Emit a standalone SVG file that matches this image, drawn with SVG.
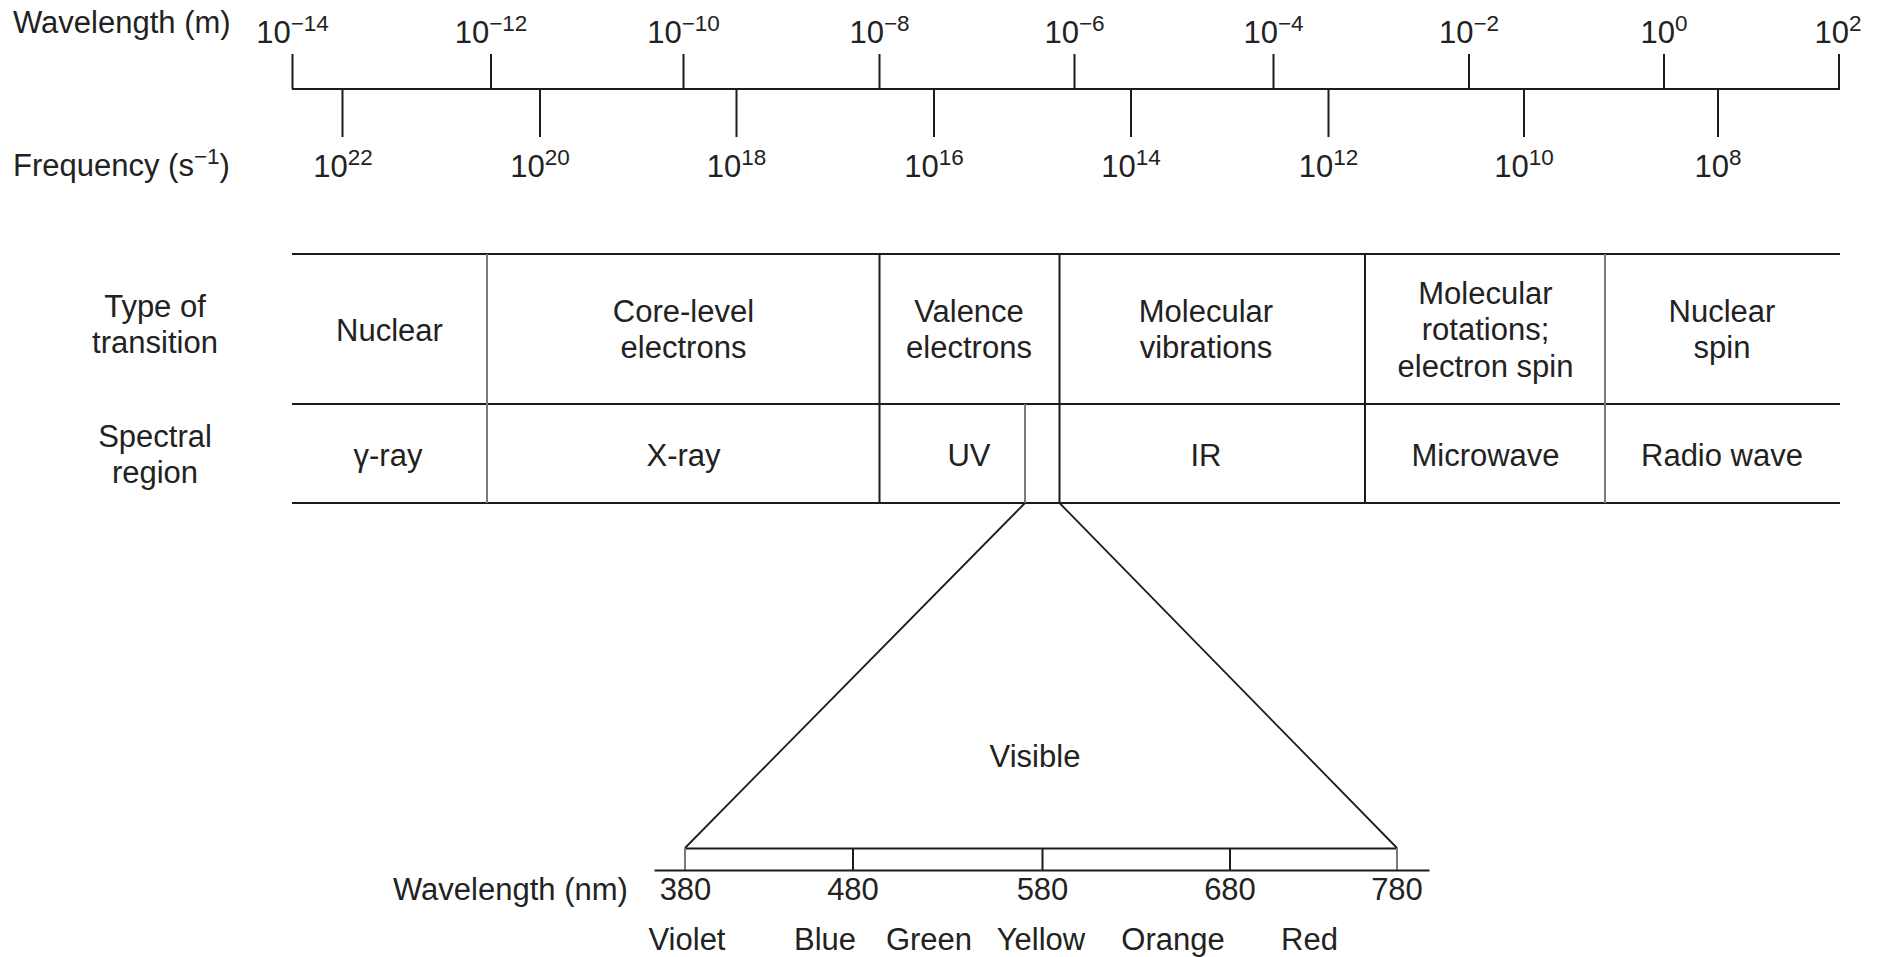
<svg xmlns="http://www.w3.org/2000/svg" width="1887" height="957" viewBox="0 0 1887 957">
  <style>
    text { font-family: "Liberation Sans", Arial, Helvetica, sans-serif; font-size: 31px; fill: #222; }
    .m { text-anchor: middle; }
    .sup { font-size: 22.5px; }
    .ln { stroke: #1c1c1c; stroke-width: 2; fill: none; }
    .gr { stroke: #7a7a7a; stroke-width: 2; fill: none; }
    .thin { stroke: #1c1c1c; stroke-width: 1.8; fill: none; }
  </style>
  <rect width="1887" height="957" fill="#ffffff"/>

  <!-- Wavelength / frequency scale -->
  <g id="scale">
    <text x="13" y="33">Wavelength (m)</text>
    <text x="13" y="176">Frequency (s<tspan class="sup" dy="-12">−1</tspan><tspan dy="12">)</tspan></text>

    <line class="ln" x1="292" y1="89" x2="1840" y2="89"/>
    <!-- wavelength ticks (upward) -->
    <path class="ln" d="M292.5 54V89 M491 54V89 M683.5 54V89 M879.5 54V89 M1074.5 54V89 M1273.5 54V89 M1469 54V89 M1664 54V89 M1839 54V89"/>
    <!-- frequency ticks (downward) -->
    <path class="ln" d="M342.5 89V137 M540 89V137 M736.5 89V137 M934 89V137 M1131 89V137 M1328.5 89V137 M1524 89V137 M1718 89V137"/>

    <text class="m" x="292.5" y="43">10<tspan class="sup" dy="-12">−14</tspan></text>
    <text class="m" x="491" y="43">10<tspan class="sup" dy="-12">−12</tspan></text>
    <text class="m" x="683.5" y="43">10<tspan class="sup" dy="-12">−10</tspan></text>
    <text class="m" x="879.5" y="43">10<tspan class="sup" dy="-12">−8</tspan></text>
    <text class="m" x="1074.5" y="43">10<tspan class="sup" dy="-12">−6</tspan></text>
    <text class="m" x="1273.5" y="43">10<tspan class="sup" dy="-12">−4</tspan></text>
    <text class="m" x="1469" y="43">10<tspan class="sup" dy="-12">−2</tspan></text>
    <text class="m" x="1664" y="43">10<tspan class="sup" dy="-12">0</tspan></text>
    <text class="m" x="1838" y="43">10<tspan class="sup" dy="-12">2</tspan></text>

    <text class="m" x="343" y="177">10<tspan class="sup" dy="-12">22</tspan></text>
    <text class="m" x="540" y="177">10<tspan class="sup" dy="-12">20</tspan></text>
    <text class="m" x="736.5" y="177">10<tspan class="sup" dy="-12">18</tspan></text>
    <text class="m" x="934" y="177">10<tspan class="sup" dy="-12">16</tspan></text>
    <text class="m" x="1131" y="177">10<tspan class="sup" dy="-12">14</tspan></text>
    <text class="m" x="1328.5" y="177">10<tspan class="sup" dy="-12">12</tspan></text>
    <text class="m" x="1524" y="177">10<tspan class="sup" dy="-12">10</tspan></text>
    <text class="m" x="1718" y="177">10<tspan class="sup" dy="-12">8</tspan></text>
  </g>

  <!-- Row headings -->
  <g id="row-headings">
    <text class="m" x="155" y="317">Type of</text>
    <text class="m" x="155" y="353">transition</text>
    <text class="m" x="155" y="447">Spectral</text>
    <text class="m" x="155" y="483">region</text>
  </g>

  <!-- Table grid -->
  <g id="table-grid">
    <path class="ln" d="M292 254H1840 M292 404H1840 M292 503H1840"/>
    <path class="gr" d="M487 254V503 M1605 254V503 M1025 404V503"/>
    <path class="ln" d="M879.5 254V503 M1059.5 254V503 M1365 254V503"/>
  </g>

  <g id="nuclear">
    <text class="m" x="389.5" y="341">Nuclear</text>
    <text class="m" x="388" y="466">γ-ray</text>
  </g>
  <g id="core-level">
    <text class="m" x="683.5" y="322">Core-level</text>
    <text class="m" x="683.5" y="358">electrons</text>
    <text class="m" x="683.5" y="466">X-ray</text>
  </g>
  <g id="valence">
    <text class="m" x="969" y="322">Valence</text>
    <text class="m" x="969" y="358">electrons</text>
    <text class="m" x="969" y="466">UV</text>
  </g>
  <g id="vibrations">
    <text class="m" x="1206" y="322">Molecular</text>
    <text class="m" x="1206" y="358">vibrations</text>
    <text class="m" x="1206" y="466">IR</text>
  </g>
  <g id="rotations">
    <text class="m" x="1485.5" y="303.5">Molecular</text>
    <text class="m" x="1485.5" y="340">rotations;</text>
    <text class="m" x="1485.5" y="376.5">electron spin</text>
    <text class="m" x="1485.5" y="466">Microwave</text>
  </g>
  <g id="nuclear-spin">
    <text class="m" x="1722" y="322">Nuclear</text>
    <text class="m" x="1722" y="358">spin</text>
    <text class="m" x="1722" y="466">Radio wave</text>
  </g>

  <!-- Lines fanning out from the visible band -->
  <g id="connectors">
    <line class="thin" x1="1025" y1="503" x2="685" y2="848"/>
    <line class="thin" x1="1059.5" y1="503" x2="1397" y2="848"/>
  </g>

  <!-- Expanded visible range -->
  <g id="visible">
    <text class="m" x="1035" y="767">Visible</text>
    <line class="ln" x1="685" y1="848.5" x2="1397" y2="848.5"/>
    <path class="gr" d="M685 848V870 M1397 848V870"/>
    <path class="ln" d="M853 848V870 M1042.5 848V870 M1230 848V870"/>
    <line class="ln" x1="654.5" y1="870.5" x2="1429.5" y2="870.5"/>

    <text x="393" y="900">Wavelength (nm)</text>
    <text class="m" x="685.5" y="900">380</text>
    <text class="m" x="853" y="900">480</text>
    <text class="m" x="1042.5" y="900">580</text>
    <text class="m" x="1230" y="900">680</text>
    <text class="m" x="1397" y="900">780</text>

    <text class="m" x="687" y="950">Violet</text>
    <text class="m" x="825" y="950">Blue</text>
    <text class="m" x="929" y="950">Green</text>
    <text class="m" x="1041" y="950">Yellow</text>
    <text class="m" x="1173" y="950">Orange</text>
    <text class="m" x="1309.5" y="950">Red</text>
  </g>
</svg>
